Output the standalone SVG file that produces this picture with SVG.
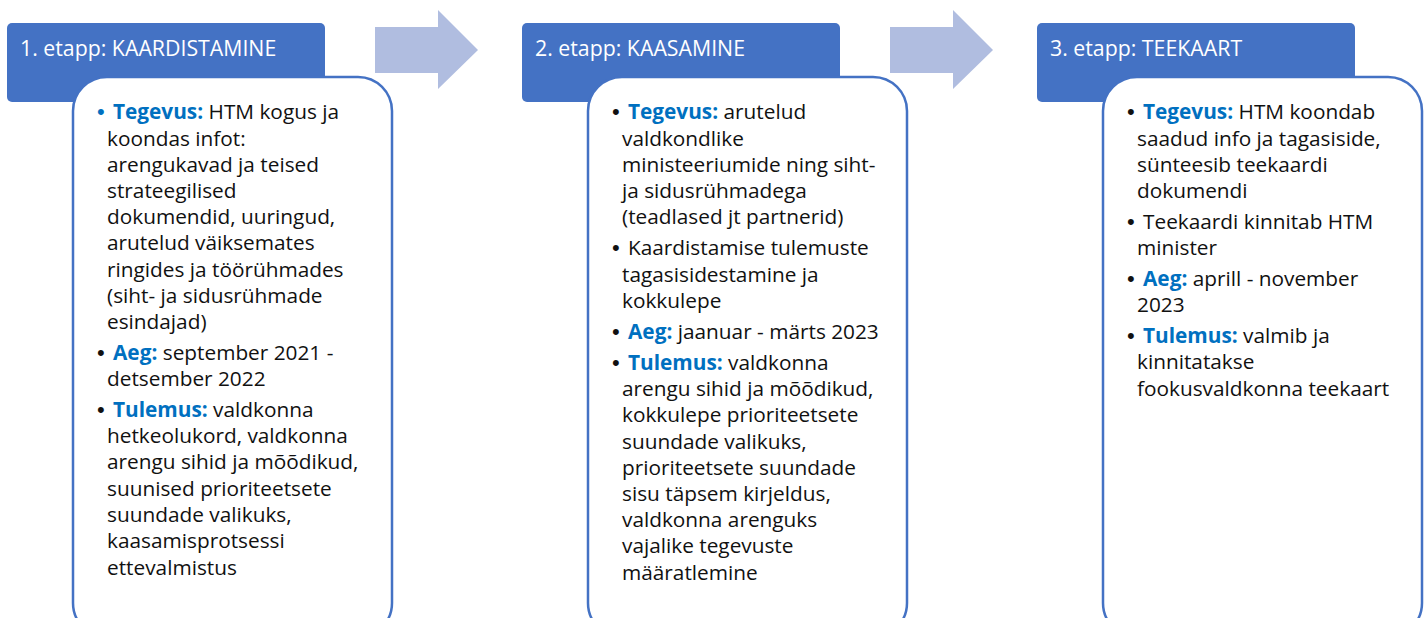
<svg xmlns="http://www.w3.org/2000/svg" width="1424" height="618" viewBox="0 0 1424 618">
  <style>
    .hdr { fill: #4472C4; }
    .card { fill: #FFFFFF; stroke: #4472C4; stroke-width: 2.5; }
    .arrow { fill: #B0BDE0; }
    .ht { font-family: "Open Sans", "Liberation Sans", sans-serif; font-size: 21.3px; fill: #FFFFFF; }
    .bt { font-family: "Open Sans", "Liberation Sans", sans-serif; font-size: 20.8px; fill: #111111; }
    .k { font-weight: bold; fill: #0070C0; }
    .b { font-family: "Liberation Sans", sans-serif; font-size: 22px; }
    .bb { fill: #0070C0; }
  </style>
  <rect width="1424" height="618" fill="#FFFFFF"/>
  <g id="connectors">
    <polygon class="arrow" points="375,27 438,27 438,10 478,50 438,89 438,73 375,73"/>
    <polygon class="arrow" points="890,27 953,27 953,10 993,50 953,89 953,73 890,73"/>
  </g>
  <g id="stage1">
    <rect class="hdr" x="7" y="23" width="318" height="79" rx="5"/>
    <text class="ht" x="20" y="56">1. etapp: KAARDISTAMINE</text>
    <rect class="card" x="73" y="77" width="319" height="560" rx="34"/>
    <text class="bt">
      <tspan class="b bb" x="97" y="119.3">•</tspan><tspan x="113" y="119.3"><tspan class="k">Tegevus:</tspan> HTM kogus ja</tspan>
      <tspan x="107" y="145.5">koondas infot:</tspan>
      <tspan x="107" y="171.7">arengukavad ja teised</tspan>
      <tspan x="107" y="197.9">strateegilised</tspan>
      <tspan x="107" y="224.1">dokumendid, uuringud,</tspan>
      <tspan x="107" y="250.3">arutelud väiksemates</tspan>
      <tspan x="107" y="276.5">ringides ja töörühmades</tspan>
      <tspan x="107" y="302.7">(siht- ja sidusrühmade</tspan>
      <tspan x="107" y="328.9">esindajad)</tspan>
      <tspan class="b" x="97" y="359.5">•</tspan><tspan x="113" y="359.5"><tspan class="k">Aeg:</tspan> september 2021 -</tspan>
      <tspan x="107" y="385.7">detsember 2022</tspan>
      <tspan class="b" x="97" y="417">•</tspan><tspan x="113" y="417"><tspan class="k">Tulemus:</tspan> valdkonna</tspan>
      <tspan x="107" y="443.2">hetkeolukord, valdkonna</tspan>
      <tspan x="107" y="469.4">arengu sihid ja mõõdikud,</tspan>
      <tspan x="107" y="495.6">suunised prioriteetsete</tspan>
      <tspan x="107" y="521.8">suundade valikuks,</tspan>
      <tspan x="107" y="548">kaasamisprotsessi</tspan>
      <tspan x="107" y="574.5">ettevalmistus</tspan>
    </text>
  </g>
  <g id="stage2">
    <rect class="hdr" x="522" y="23" width="318" height="79" rx="5"/>
    <text class="ht" x="535" y="56">2. etapp: KAASAMINE</text>
    <rect class="card" x="588" y="77" width="319" height="560" rx="34"/>
    <text class="bt">
      <tspan class="b" x="612" y="119.3">•</tspan><tspan x="628" y="119.3"><tspan class="k">Tegevus:</tspan> arutelud</tspan>
      <tspan x="622" y="145.5">valdkondlike</tspan>
      <tspan x="622" y="171.7">ministeeriumide ning siht-</tspan>
      <tspan x="622" y="197.9">ja sidusrühmadega</tspan>
      <tspan x="622" y="224.1">(teadlased jt partnerid)</tspan>
      <tspan class="b" x="612" y="255.3">•</tspan><tspan x="628" y="255.3">Kaardistamise tulemuste</tspan>
      <tspan x="622" y="281.5">tagasisidestamine ja</tspan>
      <tspan x="622" y="307.7">kokkulepe</tspan>
      <tspan class="b" x="612" y="338.6">•</tspan><tspan x="628" y="338.6"><tspan class="k">Aeg:</tspan> jaanuar - märts 2023</tspan>
      <tspan class="b" x="612" y="370">•</tspan><tspan x="628" y="370"><tspan class="k">Tulemus:</tspan> valdkonna</tspan>
      <tspan x="622" y="396.2">arengu sihid ja mõõdikud,</tspan>
      <tspan x="622" y="422.4">kokkulepe prioriteetsete</tspan>
      <tspan x="622" y="448.6">suundade valikuks,</tspan>
      <tspan x="622" y="474.8">prioriteetsete suundade</tspan>
      <tspan x="622" y="501">sisu täpsem kirjeldus,</tspan>
      <tspan x="622" y="527.2">valdkonna arenguks</tspan>
      <tspan x="622" y="553.4">vajalike tegevuste</tspan>
      <tspan x="622" y="579.7">määratlemine</tspan>
    </text>
  </g>
  <g id="stage3">
    <rect class="hdr" x="1037" y="23" width="318" height="79" rx="5"/>
    <text class="ht" x="1050" y="56">3. etapp: TEEKAART</text>
    <rect class="card" x="1103" y="77" width="319" height="560" rx="34"/>
    <text class="bt">
      <tspan class="b" x="1127" y="119.3">•</tspan><tspan x="1143" y="119.3"><tspan class="k">Tegevus:</tspan> HTM koondab</tspan>
      <tspan x="1137" y="145.5">saadud info ja tagasiside,</tspan>
      <tspan x="1137" y="171.7">sünteesib teekaardi</tspan>
      <tspan x="1137" y="197.9">dokumendi</tspan>
      <tspan class="b" x="1127" y="228.8">•</tspan><tspan x="1143" y="228.8">Teekaardi kinnitab HTM</tspan>
      <tspan x="1137" y="255">minister</tspan>
      <tspan class="b" x="1127" y="285.8">•</tspan><tspan x="1143" y="285.8"><tspan class="k">Aeg:</tspan> aprill - november</tspan>
      <tspan x="1137" y="312">2023</tspan>
      <tspan class="b" x="1127" y="343">•</tspan><tspan x="1143" y="343"><tspan class="k">Tulemus:</tspan> valmib ja</tspan>
      <tspan x="1137" y="369.2">kinnitatakse</tspan>
      <tspan x="1137" y="395.5">fookusvaldkonna teekaart</tspan>
    </text>
  </g>
</svg>
